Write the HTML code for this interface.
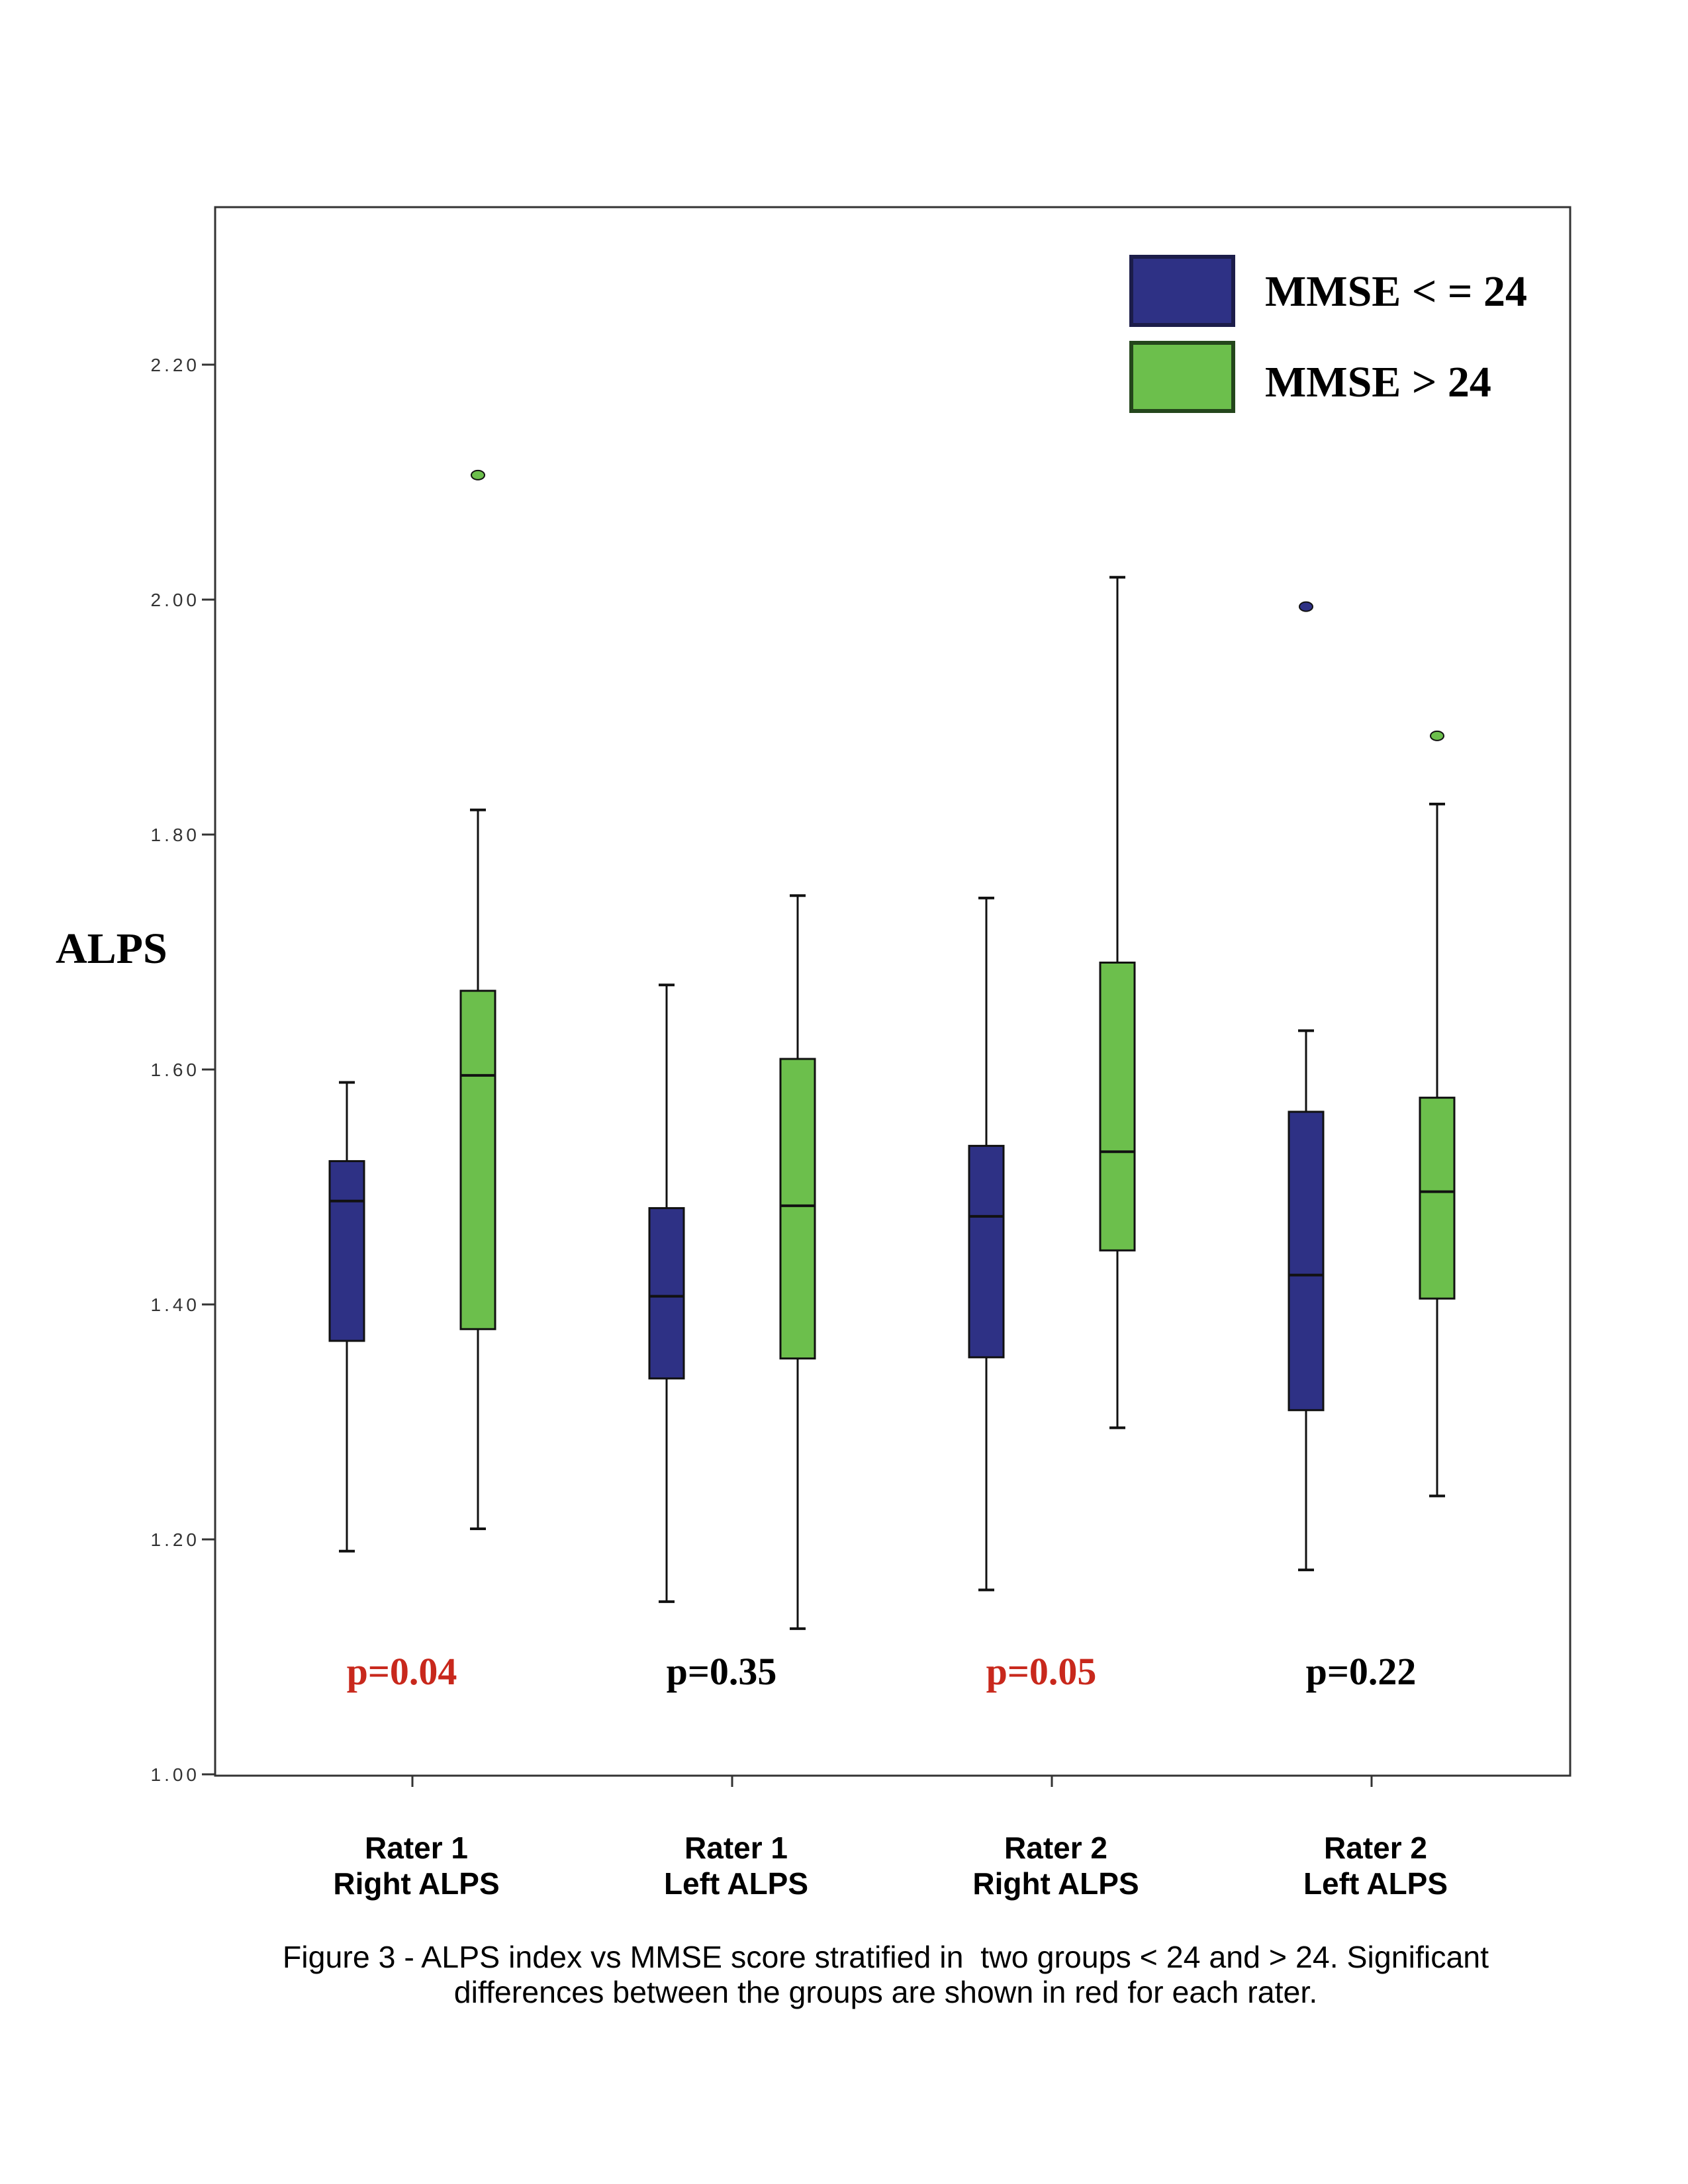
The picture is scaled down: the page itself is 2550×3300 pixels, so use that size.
<!DOCTYPE html>
<html><head><meta charset="utf-8"><style>
html,body{margin:0;padding:0;background:#fff;}
svg{display:block;}
</style></head><body>
<svg id="chart" width="2550" height="3300" viewBox="0 0 2550 3300" xmlns="http://www.w3.org/2000/svg">
<rect x="0" y="0" width="2550" height="3300" fill="#fff"/>
<rect x="325" y="313" width="2047" height="2370" fill="none" stroke="#333" stroke-width="3"/>
<g id="yaxis"></g>
<g id="xaxis"></g>
<g id="boxes"></g>
<text x="84" y="1455" font-family="Liberation Serif, serif" font-weight="bold" font-size="66">ALPS</text>
<g>
<rect x="1709" y="388" width="154" height="103" fill="#2e3185" stroke="#1c1d4a" stroke-width="6"/>
<text x="1911" y="462" font-family="Liberation Serif, serif" font-weight="bold" font-size="66">MMSE &lt; = 24</text>
<rect x="1709" y="518" width="154" height="103" fill="#6cbf4c" stroke="#24461c" stroke-width="6"/>
<text x="1911" y="599" font-family="Liberation Serif, serif" font-weight="bold" font-size="66">MMSE &gt; 24</text>
</g>
<text x="1338" y="2973" text-anchor="middle" font-family="Liberation Sans, sans-serif" font-size="46.5" xml:space="preserve">Figure 3 - ALPS index vs MMSE score stratified in  two groups &lt; 24 and &gt; 24. Significant</text>
<text x="1338" y="3026" text-anchor="middle" font-family="Liberation Sans, sans-serif" font-size="46.5">differences between the groups are shown in red for each rater.</text>
</svg>
<script>
const categories = ["Rater 1|Right ALPS","Rater 1|Left ALPS","Rater 2|Right ALPS","Rater 2|Left ALPS"];
const pValues = ["p=0.04","p=0.35","p=0.05","p=0.22"];
const pSignificant = [true,false,true,false];
const yTicks = [1.00,1.20,1.40,1.60,1.80,2.00,2.20];
// [low whisker, Q1, median, Q3, high whisker]
const lowGroup = [[1.190,1.369,1.488,1.522,1.589],[1.147,1.337,1.407,1.482,1.672],[1.157,1.355,1.475,1.535,1.746],[1.174,1.310,1.425,1.564,1.633]];
const highGroup = [[1.209,1.379,1.595,1.667,1.821],[1.124,1.354,1.484,1.609,1.748],[1.295,1.446,1.530,1.691,2.019],[1.237,1.405,1.496,1.576,1.826]];
const lowOutliers = [[],[],[],[1.994]];
const highOutliers = [[2.106],[],[],[1.884]];

const NS="http://www.w3.org/2000/svg";
function y(v){return 551+(2.2-v)*1775;}
function xc(i){return 623+i*483;}
function mk(tag,attrs,parent){const e=document.createElementNS(NS,tag);for(const k in attrs)e.setAttribute(k,attrs[k]);parent.appendChild(e);return e;}
const yg=document.getElementById('yaxis'),xg=document.getElementById('xaxis'),bg=document.getElementById('boxes');
yTicks.forEach(t=>{
  const l=mk('line',{x1:305,x2:325,y1:y(t),y2:y(t),stroke:'#333','stroke-width':3},yg);
  
  
  const tx=mk('text',{x:302,y:y(t)+10,'text-anchor':'end','font-family':'Liberation Sans, sans-serif','font-size':28,fill:'#333','letter-spacing':5},yg);
  tx.textContent=t.toFixed(2);
  
  
});
categories.forEach((c,i)=>{
  const l=mk('line',{x1:xc(i),x2:xc(i),y1:2683,y2:2700,stroke:'#333','stroke-width':3},xg);
  
  
  const parts=c.split('|');
  parts.forEach((p,j)=>{
    const tx=mk('text',{x:xc(i)+6,y:2808+j*54,'text-anchor':'middle','font-family':'Liberation Sans, sans-serif','font-weight':'bold','font-size':46},xg);
    tx.textContent=p;
    
    
  });
  const pt=mk('text',{x:xc(i)-16,y:2545,'text-anchor':'middle','font-family':'Liberation Serif, serif','font-weight':'bold','font-size':58,fill:pSignificant[i]?'#c8281c':'#000'},xg);
  pt.textContent=pValues[i];
  
  
});
function drawBox(cx,d,fill,outs,name){
  const g=mk('g',{},bg);
  
  
  const w=52,cw=24;
  mk('line',{x1:cx,x2:cx,y1:y(d[4]),y2:y(d[3]),stroke:'#111','stroke-width':3},g);
  mk('line',{x1:cx,x2:cx,y1:y(d[1]),y2:y(d[0]),stroke:'#111','stroke-width':3},g);
  mk('line',{x1:cx-cw/2,x2:cx+cw/2,y1:y(d[4]),y2:y(d[4]),stroke:'#111','stroke-width':4},g);
  mk('line',{x1:cx-cw/2,x2:cx+cw/2,y1:y(d[0]),y2:y(d[0]),stroke:'#111','stroke-width':4},g);
  mk('rect',{x:cx-w/2,y:y(d[3]),width:w,height:y(d[1])-y(d[3]),fill:fill,stroke:'#111','stroke-width':3},g);
  mk('line',{x1:cx-w/2,x2:cx+w/2,y1:y(d[2]),y2:y(d[2]),stroke:'#111','stroke-width':4},g);
  outs.forEach(o=>{
    const c=mk('ellipse',{cx:cx,cy:y(o),rx:10,ry:7,fill:fill,stroke:'#111','stroke-width':2},g);
    
    
  });
}
categories.forEach((c,i)=>{
  drawBox(xc(i)-99,lowGroup[i],'#2e3185',lowOutliers[i],'box-low-mmse');
  drawBox(xc(i)+99,highGroup[i],'#6cbf4c',highOutliers[i],'box-high-mmse');
});
</script>
</body></html>
